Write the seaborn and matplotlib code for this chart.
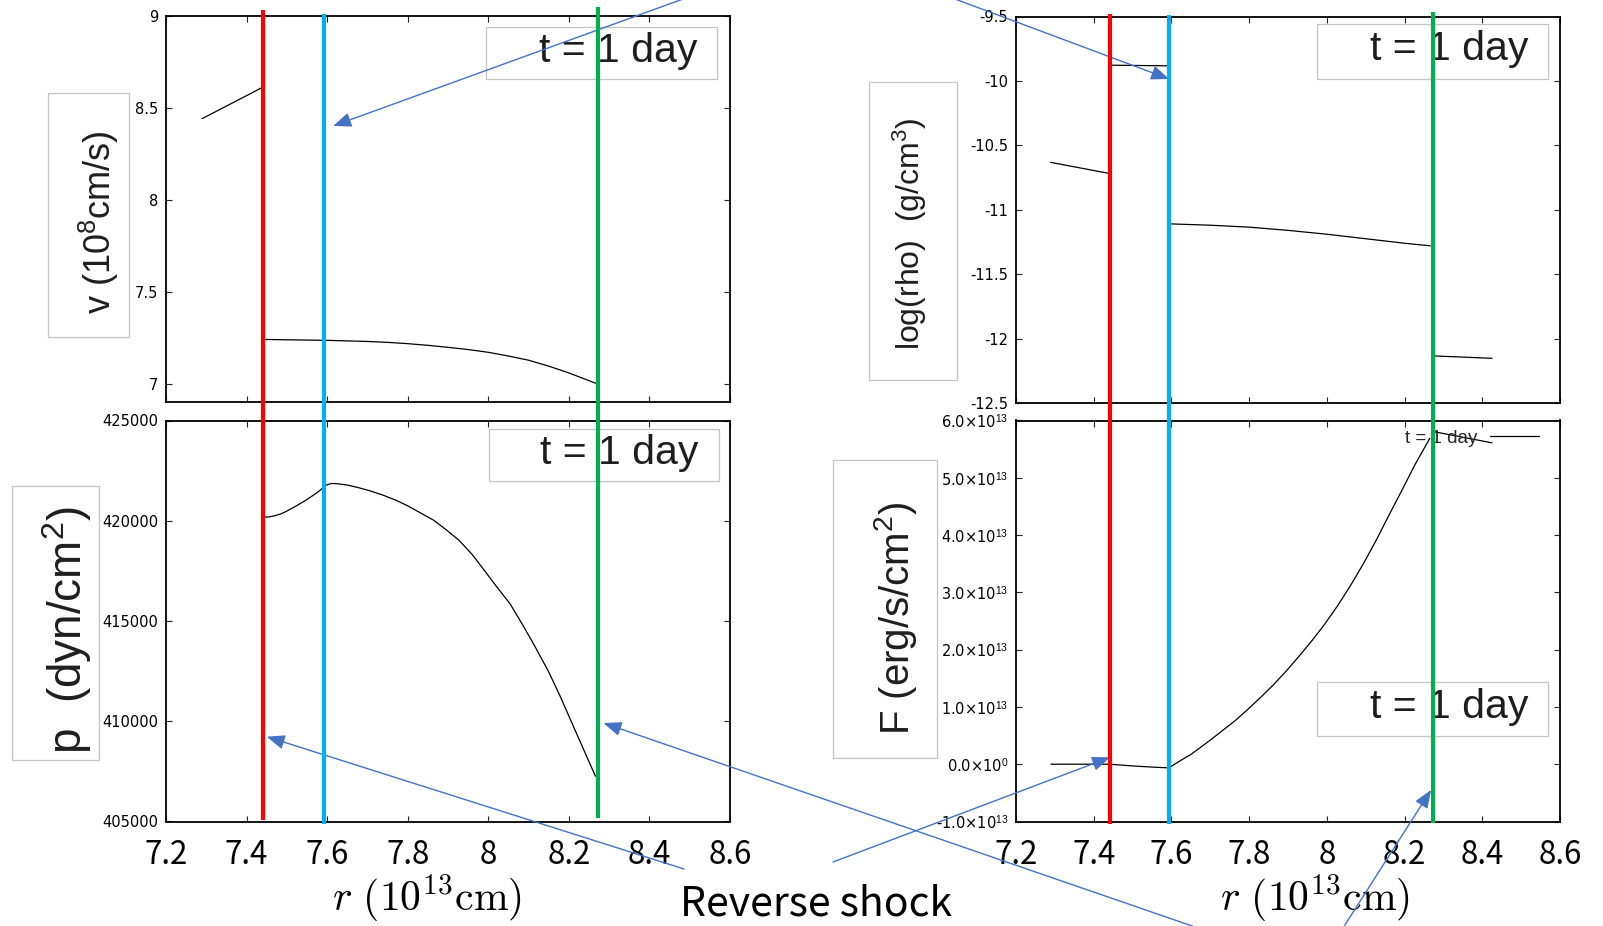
import numpy as np
import pandas as pd
import matplotlib
matplotlib.use("Agg")
import matplotlib.pyplot as plt
import matplotlib.transforms as mtransforms
from matplotlib.patches import Rectangle, ConnectionPatch
from matplotlib.lines import Line2D
import seaborn as sns

# ---------------- data ----------------
r_ticks = [7.2, 7.4, 7.6, 7.8, 8.0, 8.2, 8.4, 8.6]
r_tick_labels = ["7.2", "7.4", "7.6", "7.8", "8", "8.2", "8.4", "8.6"]

# velocity (1e8 cm/s)
v_r_inner = [7.29, 7.365, 7.44]
v_inner = [8.44, 8.525, 8.61]
v_r_shell = [7.441, 7.5, 7.6, 7.7, 7.75, 7.8, 7.85, 7.9, 7.95, 8.0, 8.05, 8.1,
             8.15, 8.2, 8.269]
v_shell = [7.240, 7.238, 7.235, 7.229, 7.224, 7.217, 7.208, 7.197, 7.185, 7.170,
           7.150, 7.127, 7.095, 7.058, 7.0]
v_ticks = [7, 7.5, 8, 8.5, 9]
v_tick_labels = ["7", "7.5", "8", "8.5", "9"]

# log density
rho_r_ejecta = [7.289, 7.438]
rho_ejecta = [-10.632, -10.717]
rho_r_cds = [7.448, 7.591]
rho_cds = [-9.878, -9.883]
rho_r_shell = [7.600, 7.70, 7.80, 7.90, 8.00, 8.10, 8.20, 8.266]
rho_shell = [-11.11, -11.12, -11.135, -11.16, -11.19, -11.225, -11.26, -11.28]
rho_r_csm = [8.279, 8.425]
rho_csm = [-12.135, -12.153]
rho_ticks = [-12.5, -12, -11.5, -11, -10.5, -10, -9.5]
rho_tick_labels = ["-12.5", "-12", "-11.5", "-11", "-10.5", "-10", "-9.5"]

# pressure (dyn/cm^2)
p_r = [7.443, 7.455, 7.47, 7.485, 7.497, 7.52, 7.548, 7.575, 7.598, 7.611, 7.624,
       7.65, 7.674, 7.705, 7.737, 7.77, 7.801, 7.83, 7.864, 7.895, 7.927, 7.96,
       7.990, 8.02, 8.054, 8.085, 8.117, 8.15, 8.180, 8.205, 8.231, 8.25, 8.266]
p_val = [420180, 420190, 420250, 420340, 420450, 420700, 421035, 421400, 421780,
         421860, 421850, 421780, 421670, 421500, 421290, 421030, 420735, 420410,
         420030, 419560, 419030, 418320, 417530, 416730, 415860, 414820, 413690,
         412460, 411180, 410030, 408850, 407980, 407260]
p_ticks = [405000, 410000, 415000, 420000, 425000]
p_tick_labels = ["405000", "410000", "415000", "420000", "425000"]

# flux (1e13 erg/s/cm^2)
F_r_main = [7.290, 7.441, 7.47, 7.5, 7.55, 7.593, 7.62, 7.65, 7.698, 7.73, 7.764,
            7.797, 7.830, 7.863, 7.896, 7.929, 7.962, 7.995, 8.028, 8.061, 8.094,
            8.127, 8.160, 8.193, 8.226, 8.265]
F_main = [0.0, 0.0, -0.015, -0.03, -0.05, -0.064, 0.05, 0.17, 0.41, 0.58, 0.76,
          0.96, 1.17, 1.39, 1.63, 1.89, 2.16, 2.45, 2.77, 3.12, 3.50, 3.91, 4.35,
          4.78, 5.22, 5.69]
F_r_out = [8.279, 8.425]
F_out = [5.80, 5.61]
F_ticks = [-1e13, 0, 1e13, 2e13, 3e13, 4e13, 5e13, 6e13]
F_tick_labels = ["-1.0×10$^{13}$", "0.0×10$^{0}$", "1.0×10$^{13}$", "2.0×10$^{13}$",
                 "3.0×10$^{13}$", "4.0×10$^{13}$", "5.0×10$^{13}$", "6.0×10$^{13}$"]

shock_r = [7.442, 7.593, 8.273]
shock_colors = ["#FF0000", "#00B0F0", "#00B050"]

time_label = "t = 1 day"
xlabel_text = r"$r\ (10^{13}\mathrm{cm})$"
annot_text = "Reverse shock"

# ---------------- style ----------------
sns.set_style("ticks")
plt.rcParams["font.family"] = ["Liberation Sans", "DejaVu Sans"]
plt.rcParams["mathtext.fontset"] = "custom"
plt.rcParams["mathtext.rm"] = "Liberation Sans"
plt.rcParams["mathtext.it"] = "Liberation Sans:italic"
plt.rcParams["mathtext.bf"] = "Liberation Sans:bold"

W, H = 1603, 926
fig = plt.figure(figsize=(W / 100, H / 100), dpi=100)
fig.patch.set_facecolor("white")


def fx(px):
    return px / W


def fy(py):
    return 1 - py / H


def add_axes(l, r, t, b):
    return fig.add_axes([fx(l), fy(b), (r - l) / W, (b - t) / H])


axTL = add_axes(166, 730, 15.5, 402)
axBL = add_axes(166, 730, 420.5, 821.5)
axTR = add_axes(1016, 1560, 16.5, 403)
axBR = add_axes(1016, 1560, 420.5, 821.5)


def segs(*pairs):
    frames = []
    for i, (xs, ys) in enumerate(pairs):
        frames.append(pd.DataFrame({"r": xs, "val": ys, "seg": i}))
    return pd.concat(frames, ignore_index=True)


dfv = segs((v_r_inner, v_inner), (v_r_shell, v_shell))
dfrho = segs((rho_r_ejecta, rho_ejecta), (rho_r_cds, rho_cds),
             (rho_r_shell, rho_shell), (rho_r_csm, rho_csm))
dfp = segs((p_r, p_val))
dfF = segs((F_r_main, np.array(F_main) * 1e13), (F_r_out, np.array(F_out) * 1e13))

for ax, df in [(axTL, dfv), (axTR, dfrho), (axBL, dfp), (axBR, dfF)]:
    sns.lineplot(data=df, x="r", y="val", units="seg", estimator=None, sort=False,
                 color="black", lw=0.9, ax=ax)
    ax.set_xlabel("")
    ax.set_ylabel("")
    ax.set_xlim(7.2, 8.6)
    ax.set_facecolor("white")
    for s in ax.spines.values():
        s.set_linewidth(1.3)
        s.set_color("black")
        s.set_visible(True)
    ax.tick_params(direction="in", top=True, right=True, length=4.5, width=0.8,
                   colors="#222222")

axTL.set_ylim(6.9, 9.0)
axTR.set_ylim(-12.5, -9.5)
axBL.set_ylim(405000, 425000)
axBR.set_ylim(-1e13, 6e13)

ytick_font = dict(fontsize=10.5, fontfamily="DejaVu Sans")
axTL.set_yticks(v_ticks, labels=v_tick_labels, **ytick_font)
axTR.set_yticks(rho_ticks, labels=rho_tick_labels, **ytick_font)
axBL.set_yticks(p_ticks, labels=p_tick_labels, **ytick_font)
axBR.set_yticks(F_ticks, labels=F_tick_labels, **ytick_font)
for ax in (axTL, axTR, axBL, axBR):
    ax.tick_params(axis="y", pad=5.5, labelcolor="black")

for ax in (axTL, axTR):
    ax.set_xticks(r_ticks)
    ax.tick_params(axis="x", labelbottom=False)
for ax in (axBL, axBR):
    ax.set_xticks(r_ticks, labels=r_tick_labels, fontsize=22.5,
                  fontfamily="Noto Sans CJK JP")
    ax.tick_params(axis="x", pad=12.5, labelcolor="black")

# small gnuplot-like key in the flux panel
axBR.legend(handles=[Line2D([], [], color="black", lw=0.9)], labels=[time_label],
            loc="upper right", bbox_to_anchor=(0.979, 1), markerfirst=False,
            frameon=False, fontsize=13.5, handlelength=2.6, handletextpad=0.7,
            borderaxespad=0.1, borderpad=0.4)

# ---------------- pasted boxes ----------------
def box(x0, y0, x1, y1, z=3):
    fig.add_artist(Rectangle((fx(x0), fy(y1)), (x1 - x0) / W, (y1 - y0) / H,
                             transform=fig.transFigure, facecolor="white",
                             edgecolor="#c4c4c4", lw=0.9, zorder=z))


# "t = 1 day" boxes
for (x0, y0, x1, y1, tx, ty) in [(486, 26.7, 717, 79, 697, 62),
                                  (489, 429, 719, 481, 698, 464),
                                  (1317, 24.5, 1548, 79, 1528, 60.5),
                                  (1317, 682, 1548, 736, 1528, 718)]:
    box(x0, y0, x1, y1)
    fig.text(fx(tx), fy(ty), time_label, ha="right", va="baseline", fontsize=29.5,
             color="#1e1e1e", zorder=3.5)

# y-label boxes
ylabels = [
    ((48, 93, 129, 337), (99, 222), "v (10$^8$cm/s)", 26),
    ((12, 486, 99, 760), (67, 630), "p  (dyn/cm$^2$)", 33),
    ((869, 82, 957, 380), (910, 234), "log(rho)  (g/cm$^3$)", 23),
    ((833, 460, 937, 758), (895, 618), "F (erg/s/cm$^2$)", 29),
]
for (x0, y0, x1, y1), (tx, ty), txt, fs in ylabels:
    box(x0, y0, x1, y1)
    fig.text(fx(tx), fy(ty), txt, rotation=90, ha="center", va="center",
             fontsize=fs, color="#1e1e1e", zorder=3.5)

# x labels (Computer Modern style)
for cx in (427, 1315):
    fig.text(fx(cx), fy(911), xlabel_text, ha="center", va="baseline", fontsize=30,
             math_fontfamily="cm", color="black", zorder=3.5)

fig.text(fx(816), fy(915), annot_text, ha="center", va="baseline", fontsize=29.5,
         family=["Noto Sans CJK JP", "DejaVu Sans"], color="black", zorder=3.5)

# ---------------- arrows ----------------
arrow_color = "#4472C4"
arrow_specs = [
    (axTL, (7.615, 8.40), (683, -1)),
    (axTR, (7.594, -9.985), (955, -1)),
    (axBL, (7.45, 409230), (684, 869)),
    (axBR, (7.442, 0.12e13), (833, 862)),
    (axBL, (8.286, 409910), (1198, 928)),
    (axBR, (8.268, -0.45e13), (1343, 928)),
]
for ax, target, (sx, sy) in arrow_specs:
    cp = ConnectionPatch(xyA=(fx(sx), fy(sy)), coordsA=fig.transFigure,
                         xyB=target, coordsB=ax.transData,
                         arrowstyle="-|>,head_length=0.55,head_width=0.22",
                         mutation_scale=20, color=arrow_color, lw=1.0,
                         shrinkA=0, shrinkB=0, zorder=4)
    fig.add_artist(cp)

# ---------------- shock position lines ----------------
line_extents_left = [(10, 820), (14, 824), (7.3, 818)]
line_extents_right = [(14, 824), (15, 824), (11.7, 822.7)]
for ax, extents in [(axTL, line_extents_left), (axTR, line_extents_right)]:
    trans = mtransforms.blended_transform_factory(ax.transData, fig.transFigure)
    for r, col, (y0, y1) in zip(shock_r, shock_colors, extents):
        fig.add_artist(Line2D([r, r], [fy(y0), fy(y1)], transform=trans, color=col,
                              lw=3.0, solid_capstyle="butt", zorder=5))

fig.savefig("out.png", dpi=100, facecolor="white")
